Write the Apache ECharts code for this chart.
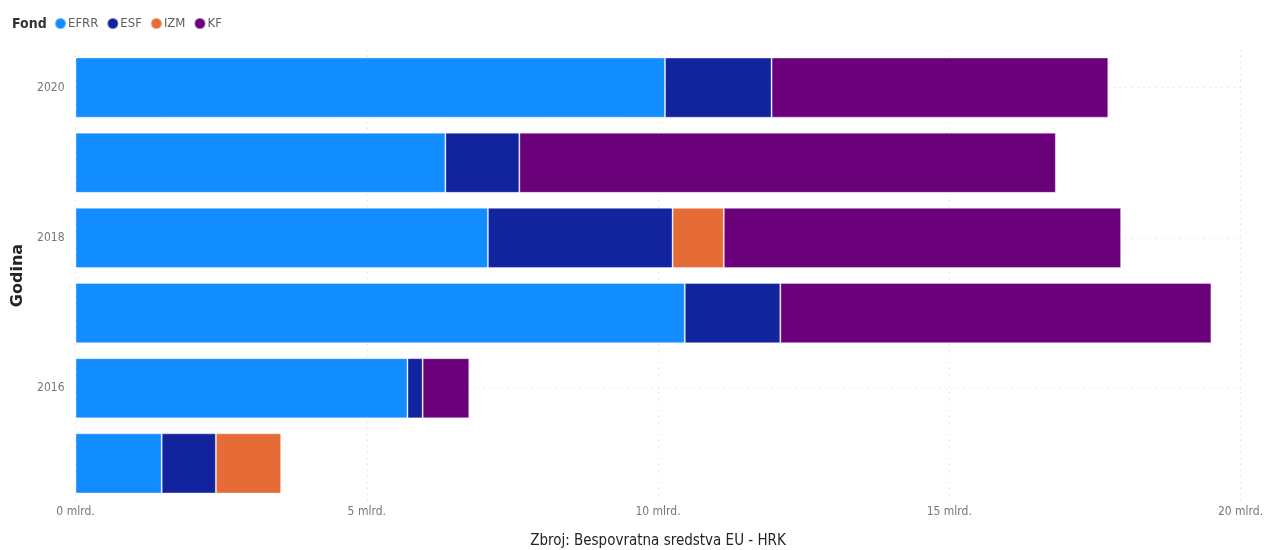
<!DOCTYPE html>
<html>
<head>
<meta charset="utf-8">
<script src="https://cdn.jsdelivr.net/npm/echarts@6/dist/echarts.min.js"></script>
<style>html,body{margin:0;padding:0;background:#fff;}#c{width:1267px;height:550px;}</style>
</head>
<body>
<div id="c"></div>
<script>
// Years (top to bottom, axis is inverted)
const categories = ['2020', '2019', '2018', '2017', '2016', '2015'];
// Values in milliards HRK
const efrr = [10.12, 6.35, 7.08, 10.46, 5.70, 1.48];
const esf  = [1.83, 1.27, 3.17, 1.64, 0.26, 0.93];
const izm  = [null, null, 0.88, null, null, 1.12];
const kf   = [5.78, 9.21, 6.82, 7.40, 0.80, null];
const xTicks = [0, 5, 10, 15, 20];

const colors = {EFRR: '#118DFF', ESF: '#12239E', IZM: '#E66C37', KF: '#6B007B'};
const font = "'DejaVu Sans Condensed', Roboto, sans-serif";

function mk(name, data) {
  return {
    name: name, type: 'bar', stack: 'total', data: data,
    barCategoryGap: '20%',
    itemStyle: {color: colors[name], borderColor: 'rgba(255,255,255,0.35)', borderWidth: 1},
    emphasis: {disabled: true}
  };
}

const chart = echarts.init(document.getElementById('c'));
chart.setOption({
  animation: false,
  title: {
    text: 'Fond', left: 12, top: 17, padding: 0,
    textStyle: {fontFamily: font, fontWeight: 'bold', fontSize: 14, color: '#333'}
  },
  legend: {
    left: 54, top: 17, padding: 0, icon: 'circle', itemWidth: 11, itemHeight: 11, itemGap: 8,
    data: ['EFRR', 'ESF', 'IZM', 'KF'],
    textStyle: {fontFamily: font, fontSize: 13, color: '#605E5C', padding: [0, 0, 0, -3]}
  },
  grid: {left: 75.5, right: 26.5, top: 50, bottom: 49, outerBoundsMode: 'none', containLabel: false},
  xAxis: {
    type: 'value', min: xTicks[0], max: xTicks[xTicks.length - 1], interval: 5,
    name: 'Zbroj: Bespovratna sredstva EU - HRK', nameLocation: 'middle', nameGap: 33,
    nameTextStyle: {fontFamily: font, fontSize: 15, color: '#252423'},
    axisLine: {show: false}, axisTick: {show: false},
    axisLabel: {fontFamily: font, fontSize: 12, color: '#777', margin: 5,
      formatter: v => v + ' mlrd.'},
    splitLine: {show: true, lineStyle: {color: '#D8D8D8', type: [1, 5], width: 1}}
  },
  yAxis: {
    type: 'category', data: categories, inverse: true,
    name: 'Godina', nameLocation: 'middle', nameGap: 40,
    nameTextStyle: {fontFamily: 'DejaVu Sans', fontWeight: 'bold', fontSize: 16, color: '#252423'},
    axisLine: {show: false}, axisTick: {show: false},
    axisLabel: {interval: 1, fontFamily: font, fontSize: 12, color: '#777', margin: 11},
    splitLine: {show: true, interval: 1, alignWithLabel: true,
      lineStyle: {color: '#D8D8D8', type: [1, 5], width: 1}}
  },
  series: [mk('EFRR', efrr), mk('ESF', esf), mk('IZM', izm), mk('KF', kf)]
});
</script>
</body>
</html>
